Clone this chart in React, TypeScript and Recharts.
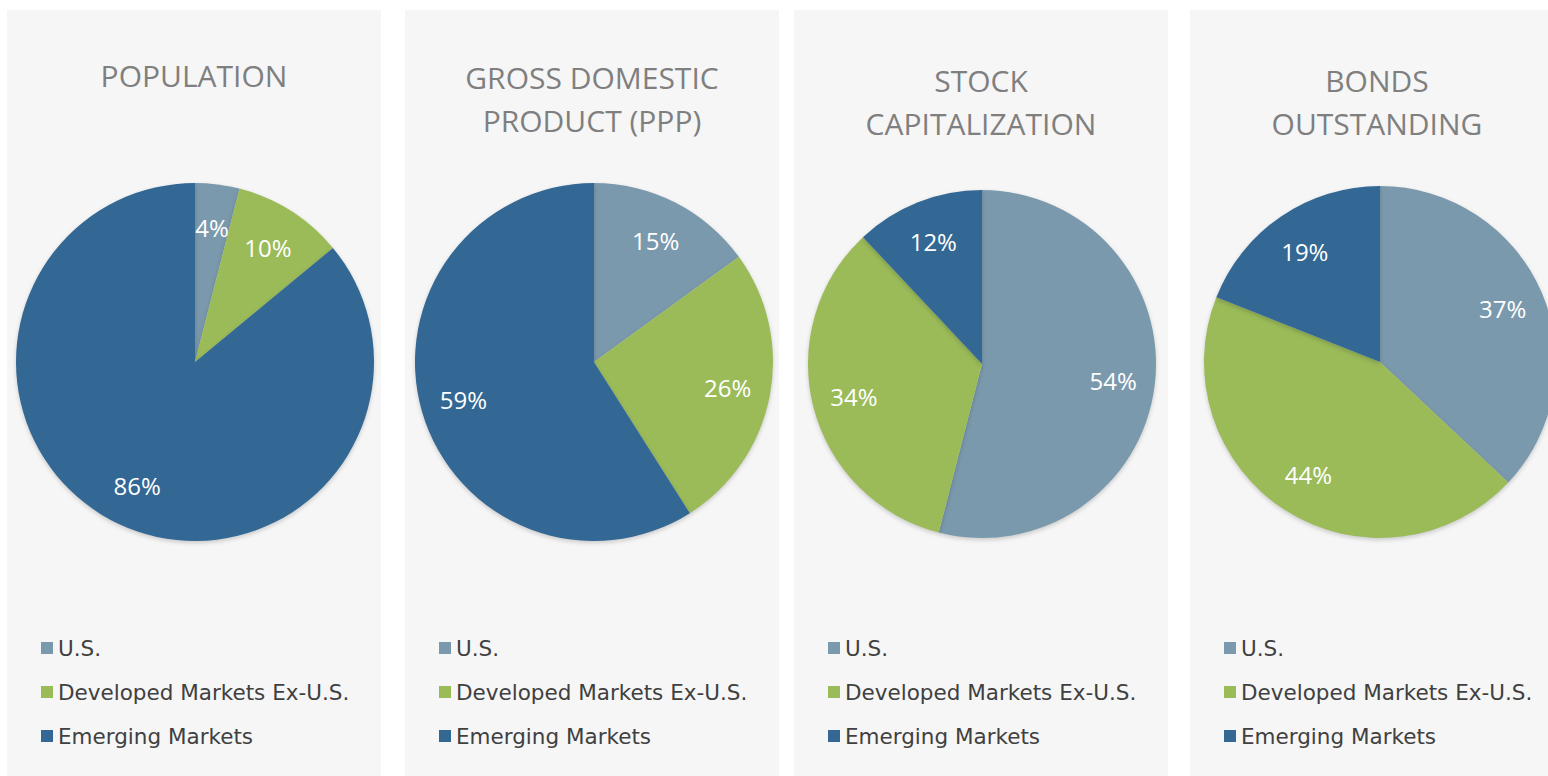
import React from 'react';
import { PieChart, Pie, Cell, Legend } from 'recharts';

const CATEGORIES = ['U.S.', 'Developed Markets Ex-U.S.', 'Emerging Markets'];
const COLORS = ['#7b99ad', '#9bbb59', '#336794'];

const POPULATION = [4, 10, 86];
const GDP_PPP = [15, 26, 59];
const STOCK_CAP = [54, 34, 12];
const BONDS = [37, 44, 19];

const TITLES = [
  ['POPULATION'],
  ['GROSS DOMESTIC', 'PRODUCT (PPP)'],
  ['STOCK', 'CAPITALIZATION'],
  ['BONDS', 'OUTSTANDING'],
];

const SERIES = [POPULATION, GDP_PPP, STOCK_CAP, BONDS];

// panel placement (px)
const PANELS = [
  { left: 7, cx: 188, cy: 352, r: 179, titleTop: 44 },
  { left: 405, cx: 189, cy: 352, r: 179, titleTop: 46 },
  { left: 794, cx: 188, cy: 354, r: 174, titleTop: 49 },
  { left: 1190, cx: 190, cy: 352, r: 176, titleTop: 49 },
];

const RAD = Math.PI / 180;

function renderLabel(props: any) {
  const { cx, cy, midAngle, outerRadius, value } = props;
  const r = outerRadius * 0.76;
  const x = cx + r * Math.cos(-midAngle * RAD);
  const y = cy + r * Math.sin(-midAngle * RAD);
  return (
    <text
      x={x}
      y={y}
      fill="#ffffff"
      textAnchor="middle"
      dominantBaseline="central"
      fontFamily="'Open Sans', sans-serif"
      fontSize={24}
    >
      {value}%
    </text>
  );
}

function LegendList() {
  return (
    <div style={{ fontFamily: "'DejaVu Sans', Verdana, sans-serif", fontSize: 21.5, color: '#404040' }}>
      {CATEGORIES.map((name, i) => (
        <div key={name} style={{ height: 44, display: 'flex', alignItems: 'center' }}>
          <span
            style={{ width: 12, height: 12, background: COLORS[i], display: 'inline-block', marginRight: 5 }}
          />
          <span style={{ whiteSpace: 'nowrap' }}>{name}</span>
        </div>
      ))}
    </div>
  );
}

function Panel({ index }: { index: number }) {
  const p = PANELS[index];
  const data = CATEGORIES.map((name, i) => ({ name, value: SERIES[index][i] }));
  return (
    <div
      style={{
        position: 'absolute',
        left: p.left,
        top: 10,
        width: 374,
        height: 766,
        background: '#f6f6f6',
      }}
    >
      <div
        style={{
          position: 'absolute',
          top: p.titleTop,
          left: 0,
          width: 374,
          textAlign: 'center',
          fontFamily: "'Open Sans', sans-serif",
          fontSize: 30,
          lineHeight: '43px',
          color: '#7f7f7f',
          zIndex: 2,
        }}
      >
        {TITLES[index].map((t) => (
          <div key={t}>{t}</div>
        ))}
      </div>
      <PieChart width={374} height={766} margin={{ top: 0, right: 0, bottom: 0, left: 0 }}>
        <Pie
          data={data}
          dataKey="value"
          nameKey="name"
          cx={p.cx}
          cy={p.cy}
          outerRadius={p.r}
          startAngle={90}
          endAngle={-270}
          stroke="none"
          label={renderLabel}
          labelLine={false}
          isAnimationActive={false}
        >
          {data.map((d, i) => (
            <Cell key={d.name} fill={COLORS[i]} />
          ))}
        </Pie>
        <Legend
          content={() => <LegendList />}
          wrapperStyle={{ position: 'absolute', left: 34, top: 616, width: 340 }}
        />
      </PieChart>
    </div>
  );
}

export default function App() {
  return (
    <div
      style={{
        position: 'absolute',
        left: 0,
        top: 0,
        width: 1548,
        height: 776,
        overflow: 'hidden',
        background: '#ffffff',
      }}
    >
      <style>{`.recharts-pie-sector path { filter: drop-shadow(0px 2px 2px rgba(0,0,0,0.18)); }`}</style>
      {TITLES.map((_, i) => (
        <Panel key={i} index={i} />
      ))}
    </div>
  );
}
